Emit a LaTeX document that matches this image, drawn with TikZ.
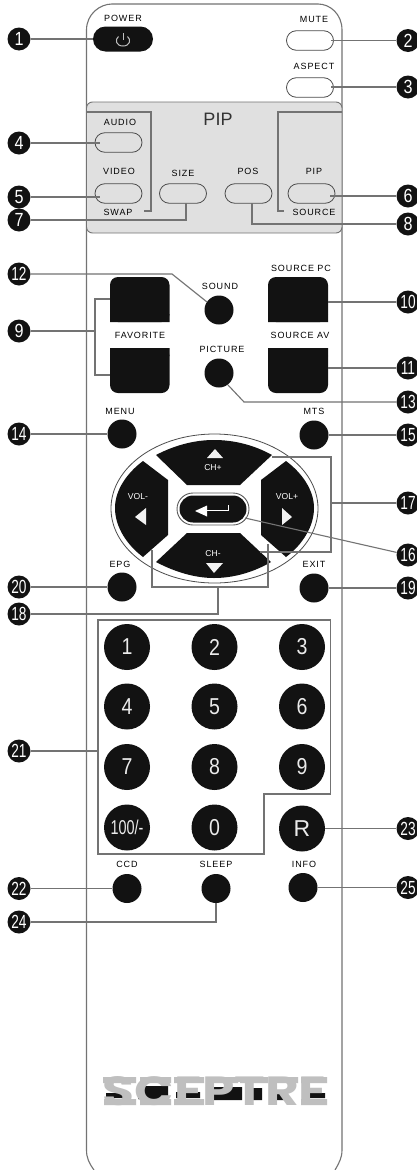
\documentclass[tikz,border=0pt]{standalone}
\usepackage{fontspec}
\setmainfont{Liberation Sans}
\newfontfamily\lblfont[LetterSpace=10]{Liberation Sans}
\newfontfamily\logofont{Poppins}
\usetikzlibrary{shapes.misc}
\definecolor{wire}{gray}{0.45}
\definecolor{ink}{gray}{0.07}
\definecolor{panel}{gray}{0.88}
\definecolor{logogray}{gray}{0.75}
\tikzset{
  badge/.style={circle,fill=ink,minimum size=23,inner sep=0,text=white,font=\fontsize{19}{19}\selectfont},
  pill/.style={rounded rectangle,draw=black!70,line width=.8,minimum width=47,minimum height=19.5,inner sep=0},
  dot/.style={circle,fill=ink,minimum size=29,inner sep=0},
  key/.style={circle,fill=ink,minimum size=46,inner sep=0,text=white!92!black,font=\fontsize{23}{23}\selectfont},
  lbl/.style={text=black,inner sep=0,font=\lblfont\fontsize{9}{9}\selectfont},
  wirel/.style={draw=wire,line width=1.1},
  bodyl/.style={draw=black!55,line width=1.1},
  padkey/.style={fill=ink},
  tri/.style={fill=white!95!black},
}
\newcommand{\nar}[1]{\scalebox{.72}[1]{#1}}
\newcommand{\one}[1]{\scalebox{.85}[1]{#1}}
\begin{document}
\begin{tikzpicture}[x=1pt,y=-1pt]
\useasboundingbox (0,0) rectangle (417,1170);
\fill[white] (0,0) rectangle (417,1170);
% body
\draw[bodyl] (94,1170) .. controls (89,1163) and (86.5,1158) .. (86.5,1150) -- (86.5,30) .. controls (86.5,14) and (100,4) .. (112,4) -- (318,4) .. controls (330,4) and (342,14) .. (342,30) -- (342,1150) .. controls (342,1158) and (339,1163) .. (335,1170);
% PIP panel
\draw[draw=black!55,fill=panel,line width=.9,rounded corners=6] (86.5,102) rectangle (342,233);
\node[text=black!80,inner sep=0,font=\fontsize{18}{18}\selectfont] (piptitle) at (218,119) {PIP};
% buttons top
\node[rounded rectangle,fill=ink,minimum width=60,minimum height=25,inner sep=0] (power) at (123,39) {};
\draw[white!75!black,line width=1] (118.5,36.5) .. controls (114.5,39.5) and (116,46) .. (123,46) .. controls (130,46) and (131.5,39.5) .. (127.5,36.5);
\draw[white!75!black,line width=1] (123,33) -- (123,40);
\node[pill] (mute) at (310,40.5) {};
\node[pill] (aspect) at (310,87.5) {};
\node[pill] (audio) at (118.5,142.5) {};
\node[pill] (video) at (118.5,193.5) {};
\node[pill] (size) at (183,193.5) {};
\node[pill] (pos) at (248.5,193.5) {};
\node[pill] (pipb) at (311.5,193.5) {};
% labels
\node[lbl] (lpower) at (123,18) {POWER};
\node[lbl] (lmute) at (314,19) {MUTE};
\node[lbl] (laspect) at (314,66) {ASPECT};
\node[lbl] (laudio) at (120,122) {AUDIO};
\node[lbl] (lvideo) at (119,171.5) {VIDEO};
\node[lbl] (lswap) at (118,212) {SWAP};
\node[lbl] (lsize) at (183,173) {SIZE};
\node[lbl] (lpos) at (248,171.5) {POS};
\node[lbl] (lpip) at (314,171.5) {PIP};
\node[lbl] (lsource) at (314,212) {SOURCE};
\node[lbl] (lsound) at (220,286) {SOUND};
\node[lbl] (lspc) at (301,268) {SOURCE PC};
\node[lbl] (lfav) at (140,335) {FAVORITE};
\node[lbl] (lsav) at (300,335) {SOURCE AV};
\node[lbl] (lpic) at (222,349) {PICTURE};
\node[lbl] (lmenu) at (120,411) {MENU};
\node[lbl] (lmts) at (314,411) {MTS};
\node[lbl] (lepg) at (120,564) {EPG};
\node[lbl] (lexit) at (314,564) {EXIT};
\node[lbl] (lccd) at (127,864) {CCD};
\node[lbl] (lsleep) at (216,864) {SLEEP};
\node[lbl] (linfo) at (304,864) {INFO};
% square keys
\fill[ink,rounded corners=8] (110,322) -- (110,277) -- (169.5,277) -- (169.5,322) -- cycle;
\fill[ink,rounded corners=8] (110,348) -- (110,393) -- (169.5,393) -- (169.5,348) -- cycle;
\fill[ink,rounded corners=8] (268,322) -- (268,277) -- (328,277) -- (328,322) -- cycle;
\fill[ink,rounded corners=8] (268,348) -- (268,393) -- (328,393) -- (328,348) -- cycle;
\fill[ink] (110,314) rectangle (169.5,322) (110,348) rectangle (169.5,356) (268,314) rectangle (328,322) (268,348) rectangle (328,356);
\coordinate (fav1) at (110,299);
\coordinate (fav2) at (110,375);
\coordinate (spc) at (328,302);
\coordinate (sav) at (328,368);
% round keys
\node[dot] (sound) at (219,310) {};
\node[dot] (picture) at (219,373) {};
\node[dot] (menu) at (122,434) {};
\node[dot] (mts) at (314,435) {};
\node[dot] (epg) at (122,587) {};
\node[dot] (exit) at (314,588) {};
\node[dot] (ccd) at (127,888.5) {};
\node[dot] (sleep) at (216,888.5) {};
\node[dot] (info) at (303,887.5) {};
% d-pad
\draw[draw=black!70,line width=.8] (214.5,508.5) ellipse (103.5 and 74.5);
\fill[padkey] (156,455) .. controls (175,445) and (195,440) .. (214,440) .. controls (234,440) and (254,445) .. (272,455) -- (240,485) -- (187,485) -- cycle;
\fill[padkey] (156,562) .. controls (175,572) and (195,578) .. (214,578) .. controls (234,578) and (254,572) .. (271,562) -- (240,533) -- (187,533) -- cycle;
\fill[padkey] (143,461) .. controls (127,473) and (115,490) .. (115,508) .. controls (115,527) and (127,545) .. (143,557) -- (168,535) -- (168,480) -- cycle;
\fill[padkey] (286,461) .. controls (302,473) and (314,490) .. (314,508) .. controls (314,527) and (302,545) .. (286,557) -- (261,535) -- (261,480) -- cycle;
\fill[tri] (207,458) -- (223,458) -- (215,449) -- cycle;
\fill[tri] (206,563) -- (223,563) -- (214,573) -- cycle;
\fill[tri] (135,517) -- (146,508) -- (146,525) -- cycle;
\fill[tri] (292,517) -- (282,508) -- (282,525) -- cycle;
\tikzset{padl/.style={text=white,inner sep=0,font=\fontsize{8.6}{9}\selectfont}}
\node[padl] (chp) at (213,468) {CH+};
\node[padl] (chm) at (213,554) {CH-};
\node[padl] (voll) at (138,497) {VOL-};
\node[padl] (volr) at (287,497) {VOL+};
% enter
\node[rounded rectangle,draw=black!65,fill=white,line width=.9,minimum width=72,minimum height=32,inner sep=0] (enterout) at (213,509) {};
\node[rounded rectangle,fill=ink,minimum width=67,minimum height=27,inner sep=0] (enter) at (213,509) {};
\draw[white,line width=1] (228,505) -- (228,510.5) -- (205,510.5);
\fill[white] (195,511) -- (207,505.5) -- (207,516.5) -- cycle;
% keypad
\node[key] (k1) at (127,647) {\one{1}};
\node[key] (k2) at (214.5,647) {\one{2}};
\node[key] (k3) at (302,647) {\one{3}};
\node[key] (k4) at (127,706.5) {\one{4}};
\node[key] (k5) at (214.5,706.5) {\one{5}};
\node[key] (k6) at (302,706.5) {\one{6}};
\node[key] (k7) at (127,767) {\one{7}};
\node[key] (k8) at (214.5,767) {\one{8}};
\node[key] (k9) at (302,767) {\one{9}};
\node[key] (k100) at (127,827.5) {\scalebox{.72}[1]{\fontsize{20}{20}\selectfont 100/-}};
\node[key] (k0) at (214.5,827.5) {\one{0}};
\node[key] (kR) at (302,828.5) {R};
% badges
\node[badge] (b1) at (19,39) {\one{1}};
\node[badge] (b2) at (408,40.5) {\one{2}};
\node[badge] (b3) at (408,87) {\one{3}};
\node[badge] (b4) at (19,143) {\one{4}};
\node[badge] (b5) at (19,197) {\one{5}};
\node[badge] (b7) at (19,220) {\one{7}};
\node[badge] (b6) at (408,196) {\one{6}};
\node[badge] (b8) at (408,224) {\one{8}};
\node[badge] (b12) at (19,274) {\nar{12}};
\node[badge] (b9) at (19,331) {\one{9}};
\node[badge] (b10) at (408,302) {\nar{10}};
\node[badge] (b11) at (408,368) {\nar{11}};
\node[badge] (b13) at (408,402) {\nar{13}};
\node[badge] (b14) at (19,434) {\nar{14}};
\node[badge] (b15) at (408,435) {\nar{15}};
\node[badge] (b17) at (408,503) {\nar{17}};
\node[badge] (b16) at (408,555) {\nar{16}};
\node[badge] (b20) at (19,587) {\nar{20}};
\node[badge] (b19) at (408,588) {\nar{19}};
\node[badge] (b18) at (19,614) {\nar{18}};
\node[badge] (b21) at (19,751) {\nar{21}};
\node[badge] (b23) at (408,828.5) {\nar{23}};
\node[badge] (b22) at (19,888.5) {\nar{22}};
\node[badge] (b25) at (408,887.5) {\nar{25}};
\node[badge] (b24) at (19,922) {\nar{24}};
% connector anchors
\coordinate (c2) at (331,40.5);
\coordinate (c3) at (331,87);
\coordinate (c4) at (100,143);
\coordinate (c5) at (100,197);
\coordinate (c6) at (330,196);
\coordinate (c7) at (186,203);
\coordinate (c8) at (252,203);
\coordinate (c12) at (207,302);
\coordinate (c13) at (228,385);
\coordinate (c16) at (245,518);
\coordinate (j17) at (331,503);
\coordinate (j18) at (218,587);
\coordinate (j9) at (95,331);
\coordinate (j21) at (98,751);
% connectors
\draw[wirel] (b1) -- (power);
\draw[wirel] (c2) -- (b2);
\draw[wirel] (c3) -- (b3);
\draw[wirel] (b4) -- (c4);
\draw[wirel] (b5) -- (c5);
\draw[wirel] (c6) -- (b6);
\draw[wirel] (b7) -| (c7);
\draw[wirel] (c8) |- (b8);
\draw[wirel] (86.5,112) -- (151,112) -- (151,211) -- (144,211);
\draw[wirel] (342,112) -- (278,112) -- (278,211) -- (284,211);
\draw[wirel] (b12) -- (172,274) -- (c12);
\draw[wirel] (fav1) -- (95,299) -- (95,375) -- (fav2);
\draw[wirel] (b9) -- (j9);
\draw[wirel] (spc) -- (b10);
\draw[wirel] (sav) -- (b11);
\draw[wirel] (c13) -- (244,402) -- (b13);
\draw[wirel] (b14) -- (menu);
\draw[wirel] (mts) -- (b15);
\draw[wirel] (272,457) -- (331,457) -- (331,552) -- (260,552);
\draw[wirel] (j17) -- (b17);
\draw[wirel] (c16) -- (b16);
\draw[wirel] (152,550) -- (152,587) -- (268,587) -- (268,544);
\draw[wirel] (j18) |- (b18);
\draw[wirel] (b20) -- (epg);
\draw[wirel] (exit) -- (b19);
\draw[wirel] (98,620) -- (330.5,620) -- (330.5,794) -- (264,794) -- (264,854) -- (98,854) -- cycle;
\draw[wirel] (b21) -- (j21);
\draw[wirel] (kR) -- (b23);
\draw[wirel] (b22) -- (ccd);
\draw[wirel] (sleep) |- (b24);
\draw[wirel] (info) -- (b25);
% logo
\fill[ink] (106,1093) rectangle (128,1098) (138,1086) rectangle (168,1099) (176,1092) rectangle (200,1098) (207,1087) rectangle (242,1100) (250,1088) rectangle (262,1100) (272,1092) rectangle (286,1100) (308,1093) rectangle (325,1098);
\fill[logogray] (103,1077) rectangle (136,1083) (104,1099) rectangle (136,1105) (140,1077) rectangle (171,1083) (140,1099) rectangle (171,1105) (174,1077) rectangle (204,1083) (174,1099) rectangle (204,1105) (207,1077) rectangle (238,1083) (240,1077) rectangle (268,1083) (271,1077) rectangle (298,1083) (301,1077) rectangle (327,1083) (301,1099) rectangle (327,1105);
\node[inner sep=0,text=logogray,font=\logofont\bfseries\fontsize{40}{40}\selectfont,xscale=1.0] (logo) at (215,1091) {\resizebox{224pt}{29pt}{SCEPTRE}};
\end{tikzpicture}
\end{document}
